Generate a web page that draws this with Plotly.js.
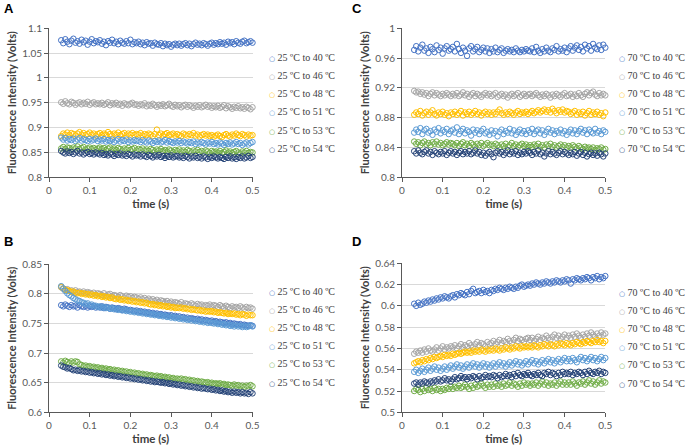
<!DOCTYPE html>
<html>
<head>
<meta charset="utf-8">
<script src="https://cdn.plot.ly/plotly-3.0.1.min.js"></script>
<style>
  html, body { margin: 0; padding: 0; background: #ffffff; }
  #chart { width: 685px; height: 447px; }
</style>
</head>
<body>
<div id="chart"></div>
<script>
// Sampling times (s), 5 ms apart
const time = [
  0.030,0.035,0.040,0.045,0.050,0.055,0.060,0.065,0.070,0.075,0.080,0.085,0.090,0.095,0.100,0.105,0.110,0.115,0.120,
  0.125,0.130,0.135,0.140,0.145,0.150,0.155,0.160,0.165,0.170,0.175,0.180,0.185,0.190,0.195,0.200,0.205,0.210,0.215,
  0.220,0.225,0.230,0.235,0.240,0.245,0.250,0.255,0.260,0.265,0.270,0.275,0.280,0.285,0.290,0.295,0.300,0.305,0.310,
  0.315,0.320,0.325,0.330,0.335,0.340,0.345,0.350,0.355,0.360,0.365,0.370,0.375,0.380,0.385,0.390,0.395,0.400,0.405,
  0.410,0.415,0.420,0.425,0.430,0.435,0.440,0.445,0.450,0.455,0.460,0.465,0.470,0.475,0.480,0.485,0.490,0.495,0.500
];

// Series labels
const heatLabels = ['25 ºC to 40 ºC','25 ºC to 46 ºC','25 ºC to 48 ºC','25 ºC to 51 ºC','25 ºC to 53 ºC','25 ºC to 54 ºC'];
const coolLabels = ['70 ºC to 40 ºC','70 ºC to 46 ºC','70 ºC to 48 ºC','70 ºC to 51 ºC','70 ºC to 53 ºC','70 ºC to 54 ºC'];
const seriesColors = ['#4472C4','#A5A5A5','#FFC000','#5B9BD5','#70AD47','#264478'];

// Panel A: 25 ºC start (Volts)
const panelA_40 = [
  1.076,1.070,1.078,1.073,1.068,1.075,1.079,1.071,1.074,1.069,1.077,1.072,1.075,1.067,1.073,1.078,1.070,1.074,1.072,
  1.076,1.069,1.073,1.066,1.074,1.071,1.077,1.070,1.073,1.068,1.075,1.071,1.069,1.074,1.070,1.077,1.068,1.072,1.070,
  1.073,1.068,1.071,1.066,1.072,1.069,1.070,1.065,1.071,1.068,1.067,1.070,1.064,1.069,1.066,1.068,1.063,1.067,1.069,
  1.066,1.069,1.065,1.068,1.070,1.066,1.069,1.064,1.068,1.071,1.067,1.069,1.066,1.070,1.068,1.065,1.069,1.071,1.067,
  1.070,1.068,1.072,1.069,1.071,1.067,1.073,1.070,1.072,1.068,1.074,1.071,1.069,1.073,1.075,1.070,1.072,1.074,1.071];
const panelA_46 = [
  0.951,0.948,0.953,0.949,0.947,0.952,0.950,0.946,0.949,0.951,0.947,0.950,0.948,0.952,0.946,0.949,0.951,0.947,0.949,
  0.947,0.950,0.946,0.948,0.951,0.945,0.949,0.947,0.950,0.946,0.948,0.944,0.949,0.947,0.945,0.948,0.950,0.946,0.947,
  0.944,0.947,0.945,0.949,0.943,0.946,0.944,0.948,0.945,0.942,0.946,0.944,0.947,0.943,0.945,0.948,0.944,0.942,0.946,
  0.943,0.945,0.941,0.944,0.946,0.942,0.945,0.943,0.940,0.944,0.942,0.945,0.941,0.943,0.946,0.942,0.944,0.940,0.943,
  0.941,0.944,0.940,0.942,0.945,0.939,0.943,0.941,0.938,0.942,0.940,0.943,0.939,0.941,0.938,0.942,0.940,0.937,0.941];
const panelA_48 = [
  0.883,0.888,0.886,0.890,0.885,0.889,0.887,0.884,0.888,0.891,0.886,0.889,0.885,0.887,0.890,0.886,0.888,0.884,0.887,
  0.889,0.885,0.888,0.886,0.891,0.887,0.884,0.888,0.886,0.890,0.885,0.887,0.889,0.884,0.888,0.886,0.889,0.885,0.887,
  0.886,0.889,0.884,0.887,0.885,0.888,0.886,0.883,0.887,0.896,0.885,0.888,0.884,0.887,0.889,0.885,0.886,0.888,0.884,
  0.887,0.885,0.883,0.888,0.886,0.884,0.887,0.885,0.889,0.884,0.886,0.882,0.885,0.887,0.884,0.886,0.883,0.885,0.882,
  0.884,0.886,0.883,0.881,0.885,0.887,0.884,0.882,0.886,0.884,0.888,0.885,0.883,0.887,0.885,0.882,0.886,0.884,0.885];
const panelA_51 = [
  0.880,0.876,0.879,0.874,0.877,0.875,0.878,0.873,0.876,0.879,0.874,0.877,0.875,0.873,0.877,0.874,0.876,0.878,0.873,
  0.876,0.874,0.877,0.872,0.875,0.873,0.876,0.871,0.874,0.877,0.872,0.875,0.873,0.876,0.871,0.874,0.872,0.875,0.873,
  0.874,0.871,0.875,0.872,0.870,0.874,0.872,0.869,0.873,0.871,0.874,0.870,0.872,0.875,0.870,0.873,0.871,0.869,0.872,
  0.870,0.873,0.869,0.872,0.870,0.868,0.871,0.869,0.872,0.867,0.870,0.868,0.871,0.869,0.866,0.870,0.868,0.871,0.867,
  0.869,0.866,0.870,0.868,0.865,0.869,0.867,0.870,0.866,0.868,0.871,0.867,0.869,0.865,0.868,0.870,0.866,0.869,0.871];
const panelA_53 = [
  0.858,0.861,0.857,0.860,0.859,0.856,0.860,0.858,0.862,0.857,0.859,0.861,0.856,0.858,0.860,0.857,0.859,0.856,0.858,
  0.860,0.857,0.859,0.855,0.858,0.860,0.856,0.858,0.855,0.859,0.857,0.854,0.858,0.856,0.859,0.855,0.857,0.859,0.854,
  0.857,0.855,0.858,0.854,0.856,0.853,0.857,0.855,0.852,0.856,0.854,0.857,0.853,0.855,0.852,0.856,0.854,0.851,0.855,
  0.853,0.856,0.852,0.854,0.851,0.855,0.853,0.850,0.854,0.852,0.855,0.851,0.853,0.850,0.854,0.852,0.849,0.853,0.851,
  0.852,0.850,0.853,0.849,0.851,0.854,0.850,0.852,0.849,0.851,0.853,0.850,0.848,0.852,0.850,0.853,0.849,0.851,0.850];
const panelA_54 = [
  0.853,0.850,0.848,0.852,0.849,0.851,0.847,0.850,0.853,0.848,0.850,0.846,0.849,0.851,0.847,0.849,0.846,0.850,0.848,
  0.846,0.849,0.845,0.847,0.844,0.848,0.846,0.843,0.847,0.845,0.848,0.844,0.846,0.843,0.847,0.845,0.842,0.846,0.844,
  0.845,0.842,0.846,0.843,0.841,0.845,0.843,0.840,0.844,0.842,0.845,0.841,0.843,0.839,0.843,0.841,0.844,0.840,0.842,
  0.843,0.840,0.842,0.839,0.843,0.841,0.838,0.842,0.840,0.843,0.839,0.841,0.838,0.842,0.840,0.837,0.841,0.839,0.842,
  0.840,0.838,0.841,0.839,0.837,0.841,0.839,0.842,0.838,0.840,0.837,0.841,0.839,0.842,0.838,0.840,0.843,0.839,0.841];

// Panel B: 25 ºC start, second run (Volts)
const panelB_40 = [
  0.781,0.779,0.782,0.780,0.778,0.781,0.779,0.780,0.777,0.781,0.779,0.778,0.780,0.777,0.779,0.778,0.780,0.777,0.778,
  0.777,0.779,0.776,0.778,0.777,0.775,0.777,0.776,0.774,0.776,0.775,0.773,0.775,0.774,0.772,0.773,0.772,0.771,0.772,
  0.770,0.771,0.769,0.770,0.768,0.769,0.767,0.768,0.766,0.767,0.765,0.766,0.764,0.765,0.764,0.763,0.764,0.762,0.763,
  0.761,0.762,0.760,0.761,0.759,0.760,0.758,0.759,0.758,0.757,0.758,0.756,0.757,0.755,0.756,0.755,0.754,0.755,0.753,
  0.754,0.752,0.753,0.752,0.751,0.752,0.750,0.751,0.749,0.750,0.749,0.748,0.749,0.747,0.748,0.747,0.746,0.747,0.746];
const panelB_46 = [
  0.811,0.809,0.807,0.808,0.805,0.806,0.804,0.806,0.803,0.804,0.802,0.804,0.801,0.803,0.802,0.800,0.802,0.799,0.801,
  0.800,0.798,0.801,0.797,0.799,0.800,0.796,0.798,0.797,0.795,0.798,0.796,0.794,0.797,0.795,0.796,0.793,0.795,0.794,
  0.792,0.794,0.791,0.793,0.790,0.792,0.789,0.791,0.788,0.790,0.787,0.789,0.788,0.786,0.788,0.785,0.787,0.784,0.786,
  0.785,0.783,0.786,0.782,0.784,0.783,0.781,0.784,0.782,0.780,0.783,0.781,0.782,0.779,0.781,0.780,0.782,0.779,0.781,
  0.780,0.778,0.781,0.779,0.777,0.780,0.778,0.776,0.779,0.777,0.778,0.776,0.779,0.777,0.775,0.778,0.776,0.777,0.775];
const panelB_48 = [
  0.812,0.809,0.807,0.806,0.805,0.803,0.804,0.802,0.801,0.802,0.800,0.801,0.799,0.800,0.798,0.799,0.797,0.798,0.796,
  0.797,0.795,0.796,0.794,0.795,0.793,0.794,0.792,0.791,0.792,0.790,0.791,0.789,0.790,0.788,0.789,0.787,0.788,0.786,
  0.787,0.785,0.786,0.784,0.785,0.783,0.782,0.783,0.781,0.782,0.780,0.781,0.779,0.780,0.778,0.779,0.777,0.778,0.776,
  0.777,0.776,0.777,0.775,0.776,0.774,0.775,0.773,0.774,0.773,0.772,0.773,0.771,0.772,0.770,0.771,0.770,0.771,0.769,
  0.770,0.768,0.769,0.768,0.767,0.768,0.766,0.767,0.766,0.767,0.765,0.766,0.764,0.766,0.765,0.763,0.765,0.764,0.764];
const panelB_51 = [
  0.813,0.809,0.805,0.801,0.798,0.796,0.793,0.791,0.789,0.788,0.786,0.785,0.783,0.784,0.781,0.782,0.779,0.780,0.778,
  0.779,0.777,0.778,0.776,0.777,0.775,0.776,0.774,0.775,0.773,0.774,0.772,0.773,0.771,0.772,0.770,0.771,0.769,0.770,
  0.768,0.769,0.767,0.768,0.766,0.767,0.765,0.766,0.764,0.765,0.763,0.764,0.762,0.763,0.761,0.762,0.760,0.761,0.759,
  0.760,0.758,0.759,0.757,0.758,0.756,0.757,0.755,0.756,0.754,0.755,0.753,0.754,0.752,0.753,0.751,0.752,0.751,0.750,
  0.751,0.749,0.750,0.748,0.749,0.747,0.748,0.746,0.747,0.745,0.747,0.745,0.746,0.744,0.746,0.744,0.745,0.747,0.745];
const panelB_53 = [
  0.686,0.684,0.687,0.685,0.683,0.686,0.684,0.686,0.685,0.681,0.680,0.678,0.679,0.677,0.678,0.676,0.677,0.675,0.676,
  0.674,0.675,0.673,0.674,0.672,0.673,0.671,0.672,0.670,0.671,0.669,0.670,0.668,0.669,0.667,0.668,0.666,0.667,0.665,
  0.666,0.664,0.665,0.663,0.664,0.662,0.663,0.662,0.661,0.662,0.660,0.661,0.659,0.660,0.658,0.659,0.657,0.658,0.656,
  0.657,0.656,0.657,0.655,0.656,0.654,0.655,0.653,0.654,0.652,0.653,0.651,0.652,0.651,0.650,0.651,0.649,0.650,0.648,
  0.649,0.648,0.649,0.647,0.648,0.646,0.647,0.646,0.645,0.647,0.645,0.646,0.644,0.645,0.643,0.645,0.644,0.646,0.644];
const panelB_54 = [
  0.679,0.677,0.676,0.674,0.675,0.673,0.671,0.672,0.670,0.671,0.669,0.670,0.668,0.669,0.667,0.668,0.666,0.667,0.665,
  0.666,0.664,0.665,0.663,0.664,0.662,0.663,0.661,0.662,0.660,0.661,0.659,0.660,0.658,0.659,0.657,0.658,0.656,0.657,
  0.655,0.656,0.654,0.655,0.653,0.654,0.652,0.653,0.651,0.652,0.651,0.650,0.651,0.649,0.650,0.648,0.649,0.647,0.648,
  0.646,0.647,0.645,0.646,0.644,0.645,0.643,0.644,0.642,0.643,0.641,0.642,0.640,0.641,0.640,0.639,0.640,0.638,0.639,
  0.637,0.638,0.636,0.637,0.635,0.636,0.634,0.635,0.633,0.635,0.633,0.634,0.632,0.634,0.632,0.633,0.631,0.634,0.632];

// Panel C: 70 ºC start (Volts)
const panelC_40 = [
  0.971,0.976,0.969,0.974,0.978,0.970,0.973,0.967,0.975,0.972,0.968,0.977,0.971,0.974,0.966,0.973,0.976,0.970,0.972,
  0.975,0.969,0.979,0.972,0.967,0.974,0.970,0.963,0.973,0.976,0.969,0.972,0.975,0.968,0.971,0.974,0.969,0.973,0.967,
  0.972,0.969,0.974,0.968,0.971,0.973,0.967,0.970,0.972,0.969,0.971,0.968,0.973,0.970,0.968,0.971,0.969,0.972,0.970,
  0.969,0.973,0.968,0.975,0.970,0.967,0.972,0.969,0.974,0.970,0.968,0.973,0.971,0.976,0.969,0.972,0.970,0.974,0.968,
  0.973,0.976,0.970,0.974,0.977,0.971,0.975,0.969,0.978,0.973,0.976,0.970,0.979,0.974,0.972,0.977,0.971,0.978,0.974];
const panelC_46 = [
  0.916,0.914,0.915,0.912,0.914,0.911,0.913,0.909,0.912,0.914,0.910,0.913,0.911,0.909,0.912,0.910,0.913,0.911,0.909,
  0.912,0.910,0.913,0.909,0.911,0.914,0.910,0.912,0.908,0.911,0.913,0.909,0.912,0.910,0.908,0.911,0.913,0.910,0.912,
  0.909,0.911,0.913,0.908,0.910,0.912,0.909,0.911,0.907,0.910,0.912,0.909,0.911,0.913,0.908,0.910,0.912,0.909,0.911,
  0.912,0.909,0.911,0.913,0.910,0.908,0.911,0.909,0.912,0.910,0.907,0.911,0.909,0.912,0.910,0.908,0.911,0.913,0.909,
  0.910,0.912,0.908,0.911,0.909,0.913,0.910,0.908,0.912,0.914,0.910,0.913,0.915,0.911,0.909,0.913,0.910,0.912,0.910];
const panelC_48 = [
  0.884,0.887,0.885,0.889,0.883,0.886,0.888,0.884,0.887,0.890,0.885,0.883,0.887,0.885,0.888,0.884,0.886,0.882,0.887,
  0.885,0.888,0.884,0.886,0.889,0.883,0.887,0.885,0.888,0.884,0.886,0.889,0.885,0.887,0.883,0.886,0.888,0.885,0.887,
  0.884,0.887,0.885,0.888,0.891,0.886,0.884,0.887,0.885,0.888,0.886,0.884,0.887,0.889,0.885,0.887,0.886,0.888,0.885,
  0.887,0.889,0.886,0.888,0.890,0.887,0.889,0.891,0.888,0.890,0.887,0.892,0.889,0.886,0.890,0.888,0.891,0.887,0.889,
  0.888,0.885,0.887,0.889,0.884,0.887,0.885,0.888,0.883,0.886,0.889,0.884,0.887,0.885,0.888,0.884,0.886,0.882,0.887];
const panelC_51 = [
  0.860,0.864,0.861,0.866,0.858,0.863,0.865,0.860,0.862,0.857,0.864,0.861,0.866,0.859,0.863,0.861,0.865,0.858,0.862,
  0.864,0.860,0.867,0.858,0.862,0.865,0.859,0.863,0.861,0.856,0.864,0.860,0.863,0.858,0.862,0.865,0.859,0.861,0.857,
  0.863,0.859,0.862,0.855,0.861,0.864,0.858,0.862,0.860,0.865,0.859,0.863,0.857,0.861,0.864,0.859,0.862,0.858,0.863,
  0.860,0.865,0.858,0.862,0.864,0.859,0.863,0.857,0.861,0.865,0.860,0.863,0.858,0.862,0.860,0.864,0.859,0.862,0.857,
  0.861,0.864,0.859,0.863,0.858,0.862,0.865,0.860,0.863,0.858,0.864,0.861,0.859,0.865,0.860,0.862,0.858,0.863,0.861];
const panelC_53 = [
  0.848,0.845,0.847,0.843,0.846,0.848,0.844,0.846,0.843,0.847,0.845,0.848,0.844,0.846,0.843,0.845,0.847,0.844,0.846,
  0.845,0.843,0.846,0.842,0.845,0.847,0.843,0.845,0.842,0.846,0.844,0.841,0.845,0.843,0.846,0.842,0.844,0.846,0.843,
  0.844,0.842,0.845,0.843,0.840,0.844,0.842,0.845,0.841,0.843,0.846,0.842,0.844,0.841,0.843,0.845,0.842,0.844,0.841,
  0.843,0.841,0.844,0.842,0.845,0.841,0.843,0.840,0.844,0.842,0.845,0.841,0.843,0.840,0.842,0.844,0.841,0.843,0.840,
  0.842,0.840,0.843,0.841,0.839,0.842,0.840,0.838,0.841,0.839,0.840,0.838,0.840,0.837,0.839,0.838,0.840,0.837,0.838];
const panelC_54 = [
  0.835,0.832,0.836,0.833,0.831,0.834,0.836,0.832,0.834,0.830,0.835,0.833,0.831,0.834,0.832,0.835,0.830,0.833,0.835,
  0.832,0.834,0.830,0.833,0.835,0.831,0.834,0.832,0.835,0.831,0.833,0.836,0.832,0.834,0.830,0.833,0.829,0.832,0.834,
  0.831,0.827,0.833,0.835,0.832,0.834,0.830,0.833,0.836,0.831,0.834,0.832,0.835,0.830,0.833,0.831,0.834,0.832,0.835,
  0.833,0.830,0.834,0.832,0.836,0.831,0.833,0.828,0.832,0.835,0.831,0.834,0.832,0.830,0.833,0.835,0.831,0.834,0.832,
  0.830,0.833,0.831,0.834,0.829,0.832,0.834,0.830,0.833,0.828,0.831,0.833,0.830,0.832,0.829,0.833,0.831,0.828,0.832];

// Panel D: 70 ºC start, second run (Volts)
const panelD_40 = [
  0.602,0.600,0.603,0.601,0.602,0.604,0.603,0.605,0.604,0.606,0.605,0.607,0.606,0.608,0.607,0.609,0.608,0.607,0.609,
  0.610,0.608,0.611,0.610,0.612,0.611,0.610,0.613,0.611,0.614,0.616,0.612,0.613,0.614,0.612,0.615,0.613,0.614,0.612,
  0.615,0.614,0.616,0.615,0.617,0.616,0.615,0.617,0.616,0.618,0.617,0.616,0.618,0.617,0.619,0.620,0.618,0.619,0.620,
  0.619,0.621,0.620,0.622,0.621,0.620,0.622,0.621,0.623,0.622,0.621,0.623,0.622,0.624,0.623,0.622,0.624,0.623,0.625,
  0.624,0.621,0.625,0.624,0.626,0.625,0.624,0.626,0.625,0.627,0.626,0.624,0.627,0.626,0.628,0.625,0.627,0.626,0.628];
const panelD_46 = [
  0.555,0.557,0.556,0.558,0.556,0.559,0.557,0.560,0.558,0.557,0.559,0.561,0.558,0.560,0.562,0.559,0.561,0.560,0.562,
  0.561,0.563,0.560,0.562,0.564,0.561,0.563,0.562,0.565,0.563,0.561,0.564,0.566,0.563,0.565,0.564,0.562,0.566,0.564,
  0.565,0.567,0.564,0.566,0.568,0.565,0.567,0.566,0.569,0.567,0.565,0.568,0.570,0.567,0.569,0.568,0.566,0.569,0.570,
  0.568,0.570,0.567,0.569,0.571,0.568,0.570,0.569,0.572,0.570,0.568,0.571,0.573,0.570,0.572,0.569,0.571,0.573,0.570,
  0.572,0.570,0.573,0.571,0.574,0.572,0.570,0.573,0.571,0.574,0.572,0.575,0.573,0.571,0.574,0.572,0.575,0.573,0.574];
const panelD_48 = [
  0.546,0.547,0.548,0.547,0.549,0.548,0.550,0.549,0.551,0.550,0.552,0.551,0.552,0.553,0.552,0.554,0.553,0.554,0.553,
  0.555,0.554,0.555,0.556,0.555,0.556,0.557,0.556,0.557,0.556,0.558,0.557,0.558,0.557,0.559,0.558,0.557,0.559,0.558,
  0.559,0.558,0.560,0.559,0.558,0.560,0.559,0.561,0.560,0.559,0.561,0.560,0.562,0.561,0.560,0.562,0.561,0.562,0.561,
  0.562,0.561,0.563,0.562,0.561,0.563,0.562,0.564,0.563,0.562,0.564,0.563,0.562,0.564,0.563,0.565,0.564,0.563,0.565,
  0.564,0.563,0.565,0.564,0.566,0.565,0.564,0.566,0.565,0.567,0.566,0.565,0.567,0.566,0.568,0.566,0.567,0.565,0.567];
const panelD_51 = [
  0.538,0.540,0.537,0.539,0.541,0.538,0.540,0.542,0.539,0.541,0.543,0.540,0.542,0.539,0.541,0.543,0.540,0.542,0.544,
  0.541,0.543,0.545,0.542,0.544,0.541,0.543,0.545,0.542,0.544,0.546,0.543,0.545,0.542,0.544,0.546,0.543,0.545,0.542,
  0.544,0.546,0.543,0.545,0.547,0.544,0.546,0.543,0.545,0.547,0.544,0.546,0.548,0.545,0.547,0.544,0.546,0.548,0.545,
  0.547,0.549,0.546,0.548,0.545,0.547,0.549,0.546,0.548,0.550,0.547,0.549,0.546,0.548,0.550,0.547,0.549,0.551,0.548,
  0.550,0.548,0.551,0.549,0.547,0.550,0.552,0.549,0.551,0.548,0.550,0.552,0.549,0.551,0.548,0.550,0.552,0.549,0.551];
const panelD_53 = [
  0.520,0.522,0.521,0.519,0.522,0.520,0.523,0.521,0.522,0.520,0.523,0.521,0.522,0.520,0.522,0.521,0.523,0.522,0.524,
  0.522,0.524,0.523,0.525,0.523,0.524,0.526,0.524,0.522,0.525,0.523,0.526,0.524,0.525,0.527,0.525,0.523,0.526,0.524,
  0.526,0.524,0.527,0.525,0.526,0.524,0.527,0.525,0.526,0.528,0.525,0.527,0.526,0.524,0.527,0.525,0.528,0.526,0.527,
  0.525,0.527,0.526,0.528,0.525,0.527,0.529,0.526,0.528,0.525,0.527,0.526,0.528,0.525,0.527,0.529,0.526,0.528,0.526,
  0.528,0.526,0.529,0.527,0.525,0.528,0.527,0.529,0.526,0.528,0.530,0.527,0.529,0.526,0.528,0.530,0.527,0.529,0.528];
const panelD_54 = [
  0.527,0.528,0.526,0.528,0.527,0.529,0.528,0.527,0.529,0.528,0.530,0.529,0.531,0.529,0.530,0.532,0.530,0.531,0.529,
  0.531,0.533,0.531,0.532,0.534,0.532,0.533,0.531,0.533,0.532,0.534,0.533,0.531,0.534,0.532,0.533,0.535,0.533,0.534,
  0.533,0.535,0.534,0.532,0.535,0.533,0.534,0.536,0.534,0.535,0.533,0.536,0.534,0.537,0.535,0.534,0.536,0.535,0.537,
  0.535,0.534,0.536,0.535,0.537,0.535,0.534,0.537,0.536,0.538,0.535,0.537,0.536,0.534,0.537,0.535,0.538,0.536,0.537,
  0.536,0.538,0.535,0.537,0.536,0.538,0.537,0.535,0.538,0.536,0.539,0.537,0.536,0.538,0.537,0.539,0.536,0.538,0.537];

// Axis ticks per panel
const yRangeA = [0.8, 1.1],  yStepA = 0.05;
const yRangeB = [0.6, 0.85], yStepB = 0.05;
const yRangeC = [0.8, 1.0],  yStepC = 0.04;
const yRangeD = [0.5, 0.64], yStepD = 0.02;
const xRange = [0, 0.5], xStep = 0.1;

const W = 685, H = 447;
const px = v => v / W;
const py = v => 1 - v / H;

const panels = [
  { tag: 'A', series: [panelA_40,panelA_46,panelA_48,panelA_51,panelA_53,panelA_54], labels: heatLabels,
    xa: 'x',  ya: 'y',  xl: 49,  xr: 252.5, yt: 28.3,  yb: 177.3, yr: yRangeA, ys: yStepA,
    legX: 267, legY: 57.3, tagX: 2, tagY: 8 },
  { tag: 'C', series: [panelC_40,panelC_46,panelC_48,panelC_51,panelC_53,panelC_54], labels: coolLabels,
    xa: 'x2', ya: 'y2', xl: 402, xr: 605.3, yt: 28.3,  yb: 177.3, yr: yRangeC, ys: yStepC,
    legX: 617, legY: 57.3, tagX: 350, tagY: 8 },
  { tag: 'B', series: [panelB_40,panelB_46,panelB_48,panelB_51,panelB_53,panelB_54], labels: heatLabels,
    xa: 'x3', ya: 'y3', xl: 49,  xr: 252.5, yt: 264.3, yb: 412.3, yr: yRangeB, ys: yStepB,
    legX: 267, legY: 291, tagX: 2, tagY: 242 },
  { tag: 'D', series: [panelD_40,panelD_46,panelD_48,panelD_51,panelD_53,panelD_54], labels: coolLabels,
    xa: 'x4', ya: 'y4', xl: 402, xr: 605.3, yt: 263.3, yb: 412.3, yr: yRangeD, ys: yStepD,
    legX: 617, legY: 292, tagX: 350, tagY: 242 }
];
const legendStep = 18.2;

const tickFont  = { family: 'Lato, "Liberation Sans", sans-serif', size: 10, color: '#595959' };
const titleFont = { family: 'Lato, "Liberation Sans", sans-serif', size: 11, color: '#404040' };
const axisLine = '#595959';

const traces = [];
const annotations = [];
const layout = {
  width: W, height: H,
  margin: { l: 0, r: 0, t: 0, b: 0, pad: 0 },
  paper_bgcolor: '#ffffff', plot_bgcolor: '#ffffff',
  showlegend: false,
  annotations: annotations
};

panels.forEach((p, k) => {
  const n = k === 0 ? '' : String(k + 1);
  layout['xaxis' + n] = {
    domain: [px(p.xl), px(p.xr)], anchor: p.ya,
    range: xRange, tick0: 0, dtick: xStep,
    showgrid: false, zeroline: false,
    showline: true, linecolor: axisLine, linewidth: 1,
    ticks: 'outside', ticklen: 4, tickcolor: axisLine, tickwidth: 1,
    tickfont: tickFont, fixedrange: true,
    title: { text: '<b>time (s)</b>', font: Object.assign({}, titleFont, { size: 11.5 }), standoff: 4 }
  };
  layout['yaxis' + n] = {
    domain: [py(p.yb), py(p.yt)], anchor: p.xa,
    range: p.yr, tick0: p.yr[0], dtick: p.ys,
    showgrid: true, gridcolor: '#D9D9D9', gridwidth: 1, zeroline: false,
    showline: true, linecolor: axisLine, linewidth: 1,
    ticks: 'outside', ticklen: 4, tickcolor: axisLine, tickwidth: 1,
    tickfont: tickFont, fixedrange: true,
    title: { text: '<b>Fluorescence Intensity (Volts)</b>', font: titleFont, standoff: 3 }
  };

  p.series.forEach((vals, i) => {
    traces.push({
      type: 'scatter', mode: 'markers',
      x: time, y: vals, name: p.labels[i],
      xaxis: p.xa, yaxis: p.ya, cliponaxis: false,
      marker: { symbol: 'circle-open', size: 5.5, color: seriesColors[i], line: { width: 1, color: seriesColors[i] } },
      hoverinfo: 'x+y+name'
    });
    // legend entry: coloured open circle followed by the series label
    annotations.push({
      xref: 'paper', yref: 'paper', x: px(p.legX), y: py(p.legY + i * legendStep),
      xanchor: 'left', yanchor: 'middle', showarrow: false,
      text: '<span style="color:' + seriesColors[i] + ';font-size:7px;font-family:DejaVu Sans">○</span> ' + p.labels[i],
      font: { family: '"Liberation Serif", "Times New Roman", serif', size: 10, color: '#404040' }
    });
  });

  annotations.push({
    xref: 'paper', yref: 'paper', x: px(p.tagX), y: py(p.tagY),
    xanchor: 'left', yanchor: 'middle', showarrow: false,
    text: '<b>' + p.tag + '</b>',
    font: { family: '"Liberation Sans", Arial, sans-serif', size: 13, color: '#000000' }
  });
});

Plotly.newPlot('chart', traces, layout, { staticPlot: true, displayModeBar: false });
</script>
</body>
</html>
